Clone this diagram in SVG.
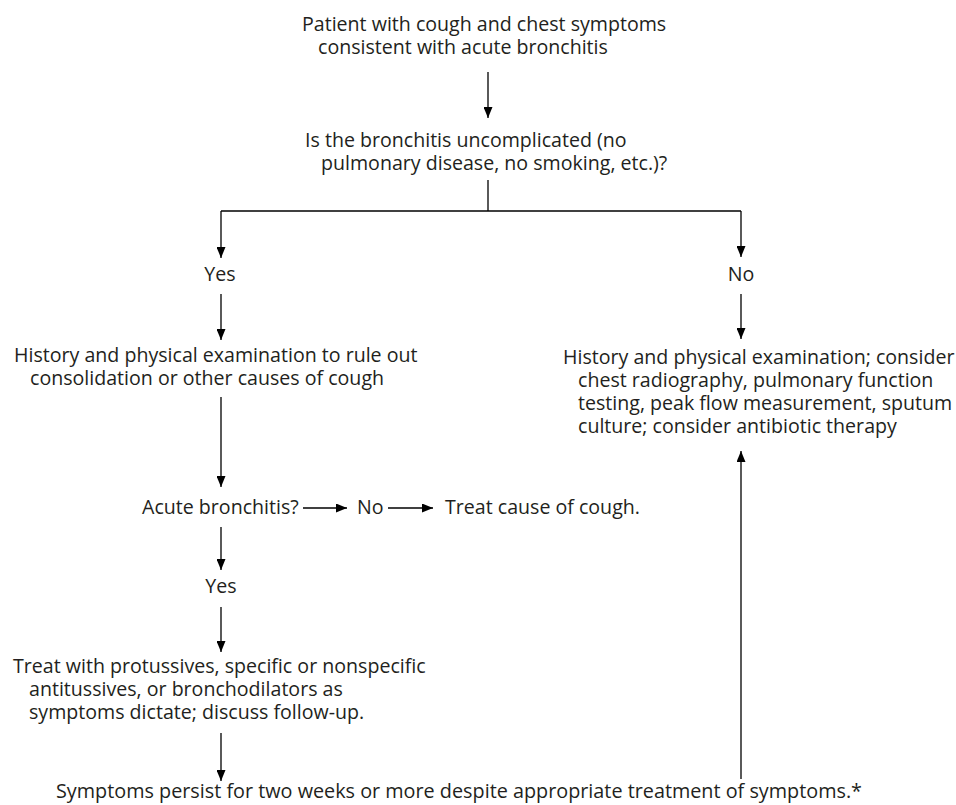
<svg xmlns="http://www.w3.org/2000/svg" width="956" height="805" viewBox="0 0 956 805">
<style>
text { font-family: "Open Sans", "Noto Sans", "Liberation Sans", sans-serif; font-size: 19.6px; fill: #231f20; }
.c { text-anchor: middle; }
.ln { stroke: #000; stroke-width: 1.3; fill: none; }
.ar { marker-end: url(#ah); }
</style>
<defs>
<marker id="ah" markerUnits="userSpaceOnUse" markerWidth="11" markerHeight="9" refX="11" refY="4.5" orient="auto">
<path d="M0,0 L11,4.5 L0,9 z" fill="#000"/>
</marker>
</defs>
<rect width="956" height="805" fill="#fff"/>
<g id="connectors">
<line class="ln ar" x1="488" y1="72" x2="488" y2="118"/>
<line class="ln" x1="488" y1="180" x2="488" y2="211"/>
<line class="ln" x1="221" y1="211" x2="741" y2="211"/>
<line class="ln ar" x1="221" y1="211" x2="221" y2="258"/>
<line class="ln ar" x1="741" y1="211" x2="741" y2="257"/>
<line class="ln ar" x1="221" y1="294" x2="221" y2="340"/>
<line class="ln ar" x1="741" y1="294" x2="741" y2="339"/>
<line class="ln ar" x1="221" y1="397" x2="221" y2="487"/>
<line class="ln ar" x1="303" y1="508" x2="347" y2="508"/>
<line class="ln ar" x1="388" y1="508" x2="433" y2="508"/>
<line class="ln ar" x1="221" y1="527" x2="221" y2="570"/>
<line class="ln ar" x1="221" y1="607" x2="221" y2="652"/>
<line class="ln ar" x1="221" y1="733" x2="221" y2="781"/>
<line class="ln ar" x1="741" y1="779" x2="741" y2="451"/>
</g>
<g id="start">
<text><tspan x="302" y="31">Patient with cough and chest symptoms</tspan><tspan x="318" y="54">consistent with acute bronchitis</tspan></text>
</g>
<g id="question">
<text><tspan x="305" y="147">Is the bronchitis uncomplicated (no</tspan><tspan x="321" y="170">pulmonary disease, no smoking, etc.)?</tspan></text>
</g>
<g id="yes1"><text class="c" x="220" y="281">Yes</text></g>
<g id="no1"><text class="c" x="741" y="281">No</text></g>
<g id="history-left">
<text><tspan x="14" y="362">History and physical examination to rule out</tspan><tspan x="30" y="385">consolidation or other causes of cough</tspan></text>
</g>
<g id="history-right">
<text><tspan x="563" y="364">History and physical examination; consider</tspan><tspan x="578" y="387">chest radiography, pulmonary function</tspan><tspan x="578" y="410">testing, peak flow measurement, sputum</tspan><tspan x="578" y="433">culture; consider antibiotic therapy</tspan></text>
</g>
<g id="acute"><text x="142" y="514">Acute bronchitis?</text></g>
<g id="no2"><text x="357" y="514">No</text></g>
<g id="treat-cause"><text x="445" y="514">Treat cause of cough.</text></g>
<g id="yes2"><text class="c" x="221" y="593">Yes</text></g>
<g id="treat">
<text><tspan x="13" y="673">Treat with protussives, specific or nonspecific</tspan><tspan x="29" y="696">antitussives, or bronchodilators as</tspan><tspan x="29" y="719">symptoms dictate; discuss follow-up.</tspan></text>
</g>
<g id="persist">
<text x="56" y="798" textLength="806" lengthAdjust="spacingAndGlyphs">Symptoms persist for two weeks or more despite appropriate treatment of symptoms.*</text>
</g>
</svg>
